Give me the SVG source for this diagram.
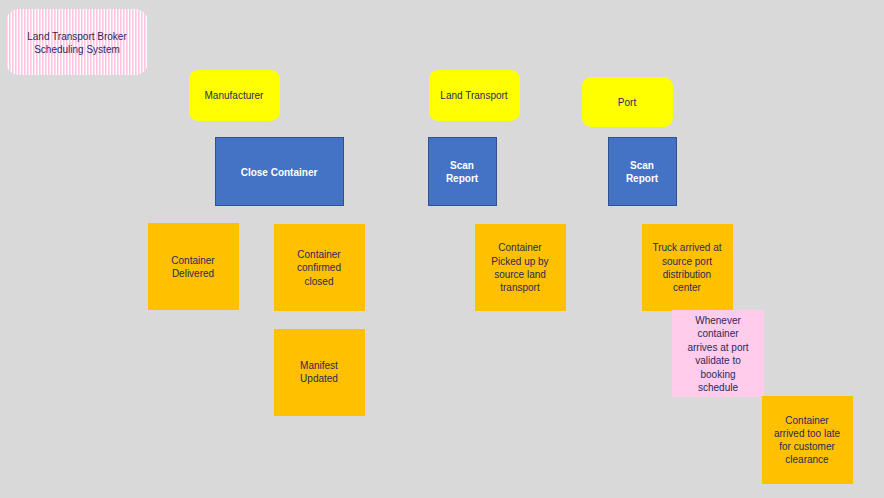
<svg xmlns="http://www.w3.org/2000/svg" width="884" height="498" viewBox="0 0 884 498">
<defs>
<pattern id="stripes" x="0" y="0" width="3" height="10" patternUnits="userSpaceOnUse">
<rect x="0" y="0" width="3" height="10" fill="#ffffff"/>
<rect x="0" y="0" width="1.6" height="10" fill="#ffc4e4"/>
</pattern>
</defs>
<style>
text{font-family:"Liberation Sans",Arial,sans-serif;font-size:10px;fill:#1f2a5c;text-anchor:middle}
.w{fill:#ffffff;font-size:10px;font-weight:bold}
.y{fill:#ffff00}
.o{fill:#ffc000}
.bl{fill:#4472c4;stroke:#2f528f;stroke-width:1}
.pk{fill:#ffccec}
</style>
<rect x="0" y="0" width="884" height="498" fill="#d9d9d9"/>
<g id="title">
<rect x="6" y="9" width="142" height="66" rx="13" fill="url(#stripes)"/>
<text x="77" y="40">Land Transport Broker</text>
<text x="77" y="53">Scheduling System</text>
</g>
<g id="manufacturer">
<rect class="y" x="189" y="70" width="91" height="51" rx="9"/>
<text x="234" y="99">Manufacturer</text>
</g>
<g id="land-transport">
<rect class="y" x="429" y="70" width="91" height="51" rx="9"/>
<text x="474" y="99">Land Transport</text>
</g>
<g id="port">
<rect class="y" x="582" y="77" width="91" height="50" rx="9"/>
<text x="627" y="106">Port</text>
</g>
<g id="close-container">
<rect class="bl" x="215.5" y="137.5" width="128" height="68"/>
<text class="w" x="279" y="176">Close Container</text>
</g>
<g id="scan-report-1">
<rect class="bl" x="428.5" y="137.5" width="68" height="68"/>
<text class="w" x="462" y="169">Scan</text>
<text class="w" x="462" y="182">Report</text>
</g>
<g id="scan-report-2">
<rect class="bl" x="608.5" y="137.5" width="68" height="68"/>
<text class="w" x="642" y="169">Scan</text>
<text class="w" x="642" y="182">Report</text>
</g>
<g id="container-delivered">
<rect class="o" x="148" y="223" width="91" height="87"/>
<text x="193" y="264">Container</text>
<text x="193" y="277">Delivered</text>
</g>
<g id="container-confirmed-closed">
<rect class="o" x="274" y="224" width="91" height="87"/>
<text x="319" y="258">Container</text>
<text x="319" y="271">confirmed</text>
<text x="319" y="285">closed</text>
</g>
<g id="manifest-updated">
<rect class="o" x="274" y="329" width="91" height="87"/>
<text x="319" y="369">Manifest</text>
<text x="319" y="382">Updated</text>
</g>
<g id="container-picked-up">
<rect class="o" x="475" y="224" width="91" height="87"/>
<text x="520" y="251">Container</text>
<text x="520" y="265">Picked up by</text>
<text x="520" y="278">source land</text>
<text x="520" y="291">transport</text>
</g>
<g id="truck-arrived">
<rect class="o" x="642" y="224" width="91" height="87"/>
<text x="687" y="251">Truck arrived at</text>
<text x="687" y="265">source port</text>
<text x="687" y="278">distribution</text>
<text x="687" y="291">center</text>
</g>
<g id="validate-note">
<rect class="pk" x="672" y="310" width="92" height="87"/>
<text x="718" y="324">Whenever</text>
<text x="718" y="337">container</text>
<text x="718" y="351">arrives at port</text>
<text x="718" y="364">validate to</text>
<text x="718" y="378">booking</text>
<text x="718" y="391">schedule</text>
</g>
<g id="container-arrived-too-late">
<rect class="o" x="762" y="396" width="91" height="88"/>
<text x="807" y="424">Container</text>
<text x="807" y="437">arrived too late</text>
<text x="807" y="450">for customer</text>
<text x="807" y="463">clearance</text>
</g>
<g id="connectors"></g>
</svg>
